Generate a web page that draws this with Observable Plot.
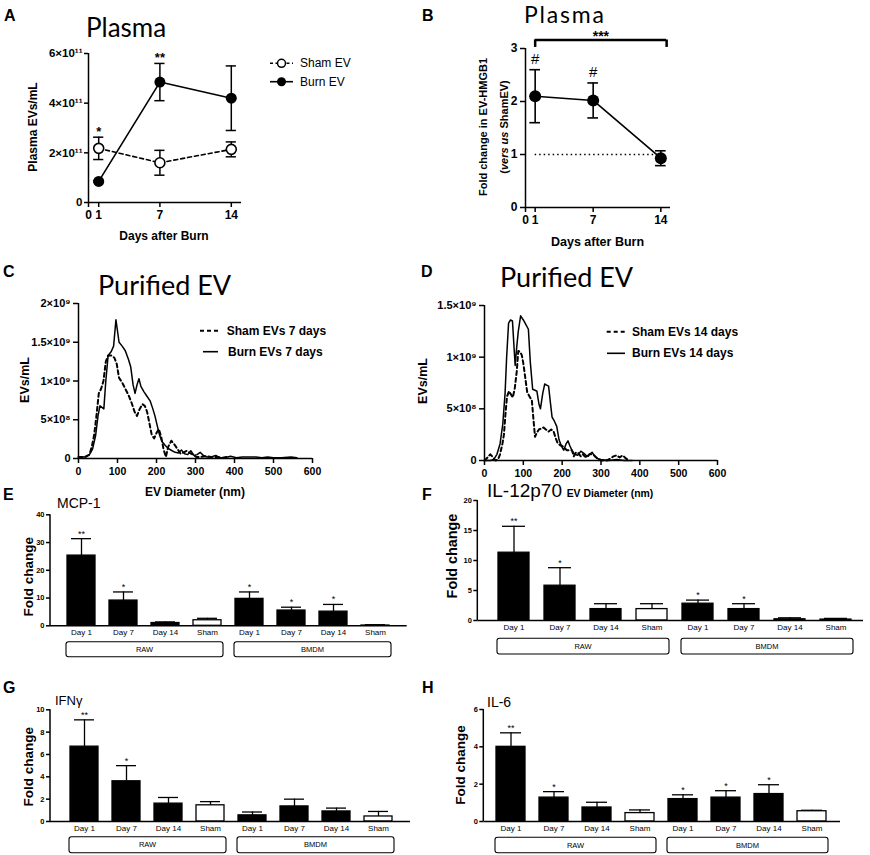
<!DOCTYPE html>
<html><head><meta charset="utf-8">
<script src="https://cdn.jsdelivr.net/npm/d3@7"></script>
<script src="https://cdn.jsdelivr.net/npm/@observablehq/plot@0.6"></script>
<style>
body{margin:0;background:#fff;}
#fig{position:relative;width:870px;height:855px;overflow:hidden;background:#fff;}
</style></head><body><div id="fig"></div>
<script>
// ---------------- DATA ----------------
// Panel A: plasma EVs/mL
const daysA = [1, 7, 14];
const shamEV = [2.18e11, 1.60e11, 2.14e11];
const shamEVsem = [0.45e11, 0.50e11, 0.30e11];
const burnEV = [0.85e11, 4.85e11, 4.20e11];
const burnEVsem = [0.03e11, 0.75e11, 1.30e11];
const starsA = ["*", "**", ""];
const yTicksA = [0, 2e11, 4e11, 6e11];
const dayTicks = [0, 1, 7, 14];

// Panel B: fold change EV-HMGB1
const daysB = [1, 7, 14];
const hmgb1 = [2.10, 2.02, 0.93];
const hmgb1Sem = [0.50, 0.33, 0.14];
const hashB = ["#", "#", ""];
const yTicksB = [0, 1, 2, 3];
const bracketB = [{from: 1, to: 14.6, top: 3.16, foot: 3.02, label: "***"}];
const refLineB = [{from: 1, to: 14.5, y: 1}];

// Panel C: size distribution day 7 ([diameter nm, EVs/mL x1e9])
const sham7 = [[0,0.02],[12,0.02],[20,0.03],[28,0.05],[34,0.15],[40,0.3],[46,0.55],[52,0.84],[58,0.9],[64,1.0],[70,1.25],[76,1.33],[84,1.33],[92,1.3],[98,1.22],[104,1.04],[112,0.98],[120,0.9],[128,0.82],[136,0.72],[144,0.6],[150,0.55],[156,0.63],[164,0.7],[170,0.68],[176,0.6],[182,0.45],[188,0.3],[194,0.26],[200,0.33],[206,0.38],[212,0.28],[218,0.12],[224,0.02],[230,0.15],[238,0.23],[246,0.18],[254,0.12],[262,0.06],[270,0.08],[278,0.1],[286,0.07],[294,0.05],[302,0.02],[312,0.02],[325,0.03],[340,0.02],[355,0.02],[370,0.01],[380,0.02]];
const burn7 = [[0,0.02],[10,0.02],[20,0.02],[28,0.05],[36,0.12],[44,0.3],[50,0.55],[55,0.68],[60,0.66],[65,0.64],[70,1.0],[76,1.33],[84,1.38],[90,1.45],[96,1.79],[104,1.5],[112,1.45],[120,1.39],[128,1.28],[134,1.18],[140,0.95],[145,0.84],[150,0.95],[155,1.03],[160,0.93],[168,0.86],[176,0.8],[184,0.74],[190,0.65],[196,0.55],[202,0.42],[208,0.3],[214,0.22],[222,0.17],[230,0.13],[240,0.1],[248,0.08],[256,0.07],[264,0.11],[272,0.06],[280,0.05],[288,0.1],[296,0.04],[304,0.05],[312,0.08],[320,0.04],[328,0.02],[340,0.02],[352,0.04],[362,0.01],[375,0.01],[390,0.03],[405,0.01],[420,0.02],[440,0.02],[455,0.02],[470,0.01],[485,0.02],[500,0.01],[520,0.01],[545,0.02],[560,0.01]];
const yTicksC = [0, 5e8, 1e9, 1.5e9, 2e9];
const xTicksCD = [0, 100, 200, 300, 400, 500, 600];

// Panel D: size distribution day 14
const sham14 = [[0,0],[8,0.03],[15,0.06],[22,0.03],[28,0],[35,0.01],[40,0.06],[46,0.16],[50,0.25],[54,0.45],[58,0.62],[63,0.67],[68,0.64],[73,0.61],[78,0.7],[83,0.86],[87,1.06],[92,1.05],[96,1.02],[100,0.94],[105,0.8],[110,0.66],[116,0.62],[122,0.58],[126,0.4],[130,0.23],[135,0.27],[140,0.3],[146,0.31],[152,0.32],[158,0.3],[165,0.28],[172,0.3],[178,0.28],[183,0.22],[188,0.17],[194,0.15],[200,0.14],[206,0.12],[212,0.1],[218,0.1],[225,0.1],[230,0.04],[236,0.08],[242,0.07],[248,0.04],[253,0.06],[258,0.04],[264,0.03],[270,0.06],[276,0.06],[282,0.05],[288,0.03],[294,0.01],[300,0],[315,0],[325,0.02],[332,0.04],[340,0.05],[348,0.03],[356,0.05],[364,0.02],[372,0]];
const burn14 = [[0,0],[15,0],[24,0.01],[32,0.06],[40,0.16],[47,0.35],[53,0.65],[57,1.0],[62,1.33],[67,1.36],[72,1.35],[76,1.1],[79,0.92],[83,1.1],[87,1.25],[93,1.4],[100,1.36],[106,1.32],[113,1.27],[118,0.95],[124,0.69],[130,0.68],[135,0.67],[140,0.55],[144,0.5],[150,0.65],[155,0.74],[160,0.73],[165,0.72],[170,0.55],[174,0.42],[180,0.38],[186,0.33],[192,0.2],[198,0.14],[204,0.1],[210,0.16],[215,0.19],[220,0.14],[225,0.1],[232,0.06],[240,0.05],[248,0.09],[256,0.07],[264,0.04],[270,0.06],[277,0.08],[284,0.04],[290,0.02],[300,0.01],[320,0],[340,0.01],[360,0],[380,0]];
const yTicksD = [0, 5e8, 1e9, 1.5e9];

// Panels E-H: cytokine fold change
const cellGroups = ["RAW", "BMDM"];
const treatments = ["Day 1", "Day 7", "Day 14", "Sham"];
const mcp1      = [25.3, 9.1, 1.0, 2.0, 9.7, 5.5, 5.1, 0.1];
const mcp1Sem   = [6.1, 3.1, 0.4, 0.7, 2.5, 1.2, 2.6, 0.3];
const mcp1Stars = ["**", "*", "", "", "*", "*", "*", ""];
const il12      = [11.3, 5.8, 1.9, 1.9, 2.8, 1.9, 0.2, 0.15];
const il12Sem   = [4.4, 3.0, 0.9, 0.9, 0.6, 0.9, 0.25, 0.2];
const il12Stars = ["**", "*", "", "", "*", "*", "", ""];
const ifng      = [6.7, 3.6, 1.6, 1.45, 0.55, 1.35, 0.9, 0.45];
const ifngSem   = [2.4, 1.4, 0.55, 0.33, 0.3, 0.65, 0.3, 0.45];
const ifngStars = ["**", "*", "", "", "", "", "", ""];
const il6       = [4.0, 1.28, 0.75, 0.45, 1.2, 1.28, 1.47, 0.55];
const il6Sem    = [0.75, 0.32, 0.28, 0.17, 0.23, 0.37, 0.5, 0.05];
const il6Stars  = ["**", "*", "", "", "*", "*", "*", ""];

// ---------------- HELPERS ----------------
const SANS = "'Liberation Sans', Arial, Helvetica, sans-serif";
const TITLE = "Lato, 'Open Sans', sans-serif";
const fig = document.getElementById("fig");
const baseStyle = `background: transparent; overflow: visible; font-family: ${SANS}; color: black;`;
const intFmt = d => String(d);
const sup = s => String(s).replace(/\d/g, c => "⁰¹²³⁴⁵⁶⁷⁸⁹"[c]);
function sciFmt(v) {
  if (v === 0) return "0";
  const e = Math.floor(Math.log10(v) + 1e-9);
  const m = +(v / 10 ** e).toFixed(2);
  return m + "×10" + sup(e);
}
function place(p, left, top) {
  p.style.position = "absolute";
  p.style.left = left + "px";
  p.style.top = top + "px";
  fig.appendChild(p);
  return p;
}

// ---------------- PANEL A ----------------
const rowsA = daysA.map((day, i) => ({day, sham: shamEV[i], shamSem: shamEVsem[i], burn: burnEV[i], burnSem: burnEVsem[i], star: starsA[i]}));
place(Plot.plot({
  width: 260, height: 250, marginLeft: 88, marginRight: 19, marginTop: 53, marginBottom: 48,
  x: {domain: [0, 15]}, y: {domain: [0, 6e11]}, style: baseStyle,
  marks: [
    Plot.axisY({ticks: yTicksA, tickFormat: sciFmt, tickSize: 4, tickPadding: 2, strokeWidth: 1.5, fontSize: 11.5, fontWeight: "bold", label: null}),
    Plot.axisX({ticks: dayTicks, tickSize: 5, tickPadding: 3, strokeWidth: 1.5, fontSize: 12, fontWeight: "bold", tickFormat: intFmt, label: null}),
    Plot.ruleX(rowsA, {x: "day", y1: d => d.sham - d.shamSem, y2: d => d.sham + d.shamSem, strokeWidth: 1.5}),
    Plot.ruleY(rowsA, {y: d => d.sham + d.shamSem, x1: d => d.day - 0.5, x2: d => d.day + 0.5, strokeWidth: 1.5}),
    Plot.ruleY(rowsA, {y: d => d.sham - d.shamSem, x1: d => d.day - 0.5, x2: d => d.day + 0.5, strokeWidth: 1.5}),
    Plot.ruleX(rowsA, {x: "day", y1: d => d.burn - d.burnSem, y2: d => d.burn + d.burnSem, strokeWidth: 1.5}),
    Plot.ruleY(rowsA, {y: d => d.burn + d.burnSem, x1: d => d.day - 0.5, x2: d => d.day + 0.5, strokeWidth: 1.5}),
    Plot.ruleY(rowsA, {y: d => d.burn - d.burnSem, x1: d => d.day - 0.5, x2: d => d.day + 0.5, strokeWidth: 1.5}),
    Plot.line(rowsA, {x: "day", y: "sham", strokeDasharray: "4,3", strokeWidth: 1.6}),
    Plot.line(rowsA, {x: "day", y: "burn", strokeWidth: 1.6}),
    Plot.dot(rowsA, {x: "day", y: "sham", r: 5, fill: "white", stroke: "black", strokeWidth: 1.6}),
    Plot.dot(rowsA, {x: "day", y: "burn", r: 5.5, fill: "black"}),
    Plot.text(rowsA, {x: "day", y: d => Math.max(d.sham + d.shamSem, d.burn + d.burnSem), text: "star", dy: -1, lineAnchor: "bottom", fontSize: 13, fontWeight: "bold"}),
    Plot.ruleX([0], {strokeWidth: 1.5}),
    Plot.ruleY([0], {strokeWidth: 1.5})
  ]
}), 0, 0);

// ---------------- PANEL B ----------------
const rowsB = daysB.map((day, i) => ({day, v: hmgb1[i], s: hmgb1Sem[i], mark: hashB[i]}));
place(Plot.plot({
  width: 260, height: 250, marginLeft: 90, marginRight: 25, marginTop: 48, marginBottom: 43,
  x: {domain: [0, 15]}, y: {domain: [0, 3]}, style: baseStyle,
  marks: [
    Plot.axisY({ticks: yTicksB, tickFormat: intFmt, tickSize: 5, tickPadding: 3, strokeWidth: 1.5, fontSize: 12, fontWeight: "bold", label: null}),
    Plot.axisX({ticks: dayTicks, tickFormat: intFmt, tickSize: 5, tickPadding: 3, strokeWidth: 1.5, fontSize: 12, fontWeight: "bold", label: null}),
    Plot.ruleY(refLineB, {y: "y", x1: "from", x2: "to", strokeDasharray: "1.5,3", strokeWidth: 1.6}),
    Plot.ruleX(rowsB, {x: "day", y1: d => d.v - d.s, y2: d => d.v + d.s, strokeWidth: 1.6}),
    Plot.ruleY(rowsB, {y: d => d.v + d.s, x1: d => d.day - 0.55, x2: d => d.day + 0.55, strokeWidth: 1.6}),
    Plot.ruleY(rowsB, {y: d => d.v - d.s, x1: d => d.day - 0.55, x2: d => d.day + 0.55, strokeWidth: 1.6}),
    Plot.line(rowsB, {x: "day", y: "v", strokeWidth: 1.6}),
    Plot.dot(rowsB, {x: "day", y: "v", r: 6, fill: "black"}),
    Plot.text(rowsB, {x: "day", y: d => d.v + d.s, text: "mark", dy: -6, lineAnchor: "bottom", fontSize: 15}),
    Plot.ruleY(bracketB, {y: "top", x1: "from", x2: "to", strokeWidth: 2.5}),
    Plot.ruleX(bracketB, {x: "from", y1: "foot", y2: "top", strokeWidth: 2.5}),
    Plot.ruleX(bracketB, {x: "to", y1: "foot", y2: "top", strokeWidth: 2.5}),
    Plot.text(bracketB, {x: d => (d.from + d.to) / 2, y: "top", text: "label", dy: 1, lineAnchor: "bottom", fontSize: 14, fontWeight: "bold"}),
    Plot.ruleX([0], {strokeWidth: 1.5}),
    Plot.ruleY([0], {strokeWidth: 1.5})
  ]
}), 435, 0);

// ---------------- PANELS C, D ----------------
function sizePlot(sham, burn, yTicks, yMax, opts) {
  return Plot.plot({
    width: 420, height: 250, ...opts,
    x: {domain: [0, 600]}, y: {domain: [0, yMax]}, style: baseStyle,
    marks: [
      Plot.axisY({ticks: yTicks, tickFormat: sciFmt, tickSize: 5, tickPadding: 3, strokeWidth: 1.5, fontSize: 11, fontWeight: "bold", label: null}),
      Plot.axisX({ticks: xTicksCD, tickFormat: intFmt, tickSize: 5, tickPadding: 4, strokeWidth: 1.5, fontSize: 10.5, fontWeight: "bold", label: null}),
      Plot.line(sham, {x: d => d[0], y: d => d[1] * 1e9, strokeDasharray: "4,3", strokeWidth: 2}),
      Plot.line(burn, {x: d => d[0], y: d => d[1] * 1e9, strokeWidth: 1.5}),
      Plot.ruleX([0], {strokeWidth: 1.5}),
      Plot.ruleY([0], {strokeWidth: 1.5})
    ]
  });
}
place(sizePlot(sham7, burn7, yTicksC, 2e9, {marginLeft: 78, marginRight: 108, marginTop: 53, marginBottom: 42}), 0, 250);
place(sizePlot(sham14, burn14, yTicksD, 1.5e9, {marginLeft: 49, marginRight: 138, marginTop: 55, marginBottom: 40}), 435, 250);

// ---------------- PANELS E-H ----------------
const barKeys = cellGroups.flatMap(g => treatments.map(t => g + "|" + t));
function barPanel({vals, sems, stars, yMax, yTicks, left, top, width, mL, mR, mT, mB, range, boxOff, boxH}) {
  const rows = barKeys.map((k, i) => ({key: k, v: vals[i], s: sems[i], star: stars[i], sham: k.endsWith("Sham")}));
  const p = Plot.plot({
    width, height: 175, marginLeft: mL, marginRight: mR, marginTop: mT, marginBottom: mB,
    x: {type: "band", domain: barKeys, range, paddingInner: 0.33, paddingOuter: 0.165},
    y: {domain: [0, yMax]}, style: baseStyle,
    marks: [
      Plot.axisY({ticks: yTicks, tickFormat: intFmt, tickSize: 4, tickPadding: 2, strokeWidth: 1.5, fontSize: 7.5, fontWeight: "bold", label: null}),
      Plot.axisX({tickSize: 0, tickPadding: 4, fontSize: 8, tickFormat: k => k.split("|")[1], label: null}),
      Plot.ruleX(rows, {x: "key", y1: "v", y2: d => d.v + d.s, strokeWidth: 1.3}),
      Plot.tickY(rows, {x: "key", y: d => d.v + d.s, insetLeft: 4, insetRight: 4, strokeWidth: 1.3}),
      Plot.barY(rows, {x: "key", y: "v", fill: d => d.sham ? "white" : "black", stroke: "black", strokeWidth: 1.3}),
      Plot.text(rows, {x: "key", y: d => d.v + d.s, text: "star", dy: -2, lineAnchor: "bottom", fontSize: 9}),
      Plot.ruleY([0], {strokeWidth: 1.5})
    ]
  });
  const svg = d3.select(p);
  const xs = p.scale("x"), ys = p.scale("y");
  const bw = xs.bandwidth ?? 0.67 * (range[1] - range[0]) / barKeys.length;
  const y0 = ys.apply(0);
  svg.append("line").attr("x1", mL).attr("x2", mL).attr("y1", y0).attr("y2", ys.apply(yMax))
    .attr("stroke", "black").attr("stroke-width", 1.5);
  cellGroups.forEach(g => {
    const ks = barKeys.filter(k => k.startsWith(g + "|"));
    const xa = xs.apply(ks[0]) - 1, xb = xs.apply(ks[ks.length - 1]) + bw + 2;
    svg.append("rect").attr("x", xa).attr("y", y0 + boxOff).attr("width", xb - xa).attr("height", boxH)
      .attr("rx", 2.5).attr("fill", "white").attr("stroke", "black").attr("stroke-width", 1.1);
    svg.append("text").attr("x", (xa + xb) / 2).attr("y", y0 + boxOff + boxH / 2).attr("dy", "0.35em")
      .attr("text-anchor", "middle").attr("font-size", 7.5).text(g);
  });
  return place(p, left, top);
}
barPanel({vals: mcp1, sems: mcp1Sem, stars: mcp1Stars, yMax: 40, yTicks: [0,10,20,30,40], left: 0, top: 490, width: 420, mL: 50, mR: 13.3, mT: 24.3, mB: 39.7, range: [58.45, 398.45], boxOff: 16.4, boxH: 15});
barPanel({vals: il12, sems: il12Sem, stars: il12Stars, yMax: 20, yTicks: [0,5,10,15,20], left: 435, top: 490, width: 435, mL: 42.3, mR: 7, mT: 10, mB: 45, range: [53.8, 425], boxOff: 18.3, boxH: 15.7});
barPanel({vals: ifng, sems: ifngSem, stars: ifngStars, yMax: 10, yTicks: [0,2,4,6,8,10], left: 0, top: 680, width: 420, mL: 50, mR: 10, mT: 29.3, mB: 34, range: [59.05, 402.25], boxOff: 15.7, boxH: 16});
barPanel({vals: il6, sems: il6Sem, stars: il6Stars, yMax: 6, yTicks: [0,2,4,6], left: 435, top: 680, width: 420, mL: 48.3, mR: 15, mT: 29, mB: 34, range: [53.4, 399], boxOff: 16.3, boxH: 15.4});

// ---------------- ANNOTATION OVERLAY ----------------
const ov = d3.select(fig).append("svg").attr("width", 870).attr("height", 855)
  .style("position", "absolute").style("left", "0px").style("top", "0px").style("pointer-events", "none");
function txt(x, y, s, {size = 12, weight = "normal", anchor = "start", family = SANS, rot = false, mid = false, ls = null} = {}) {
  const t = ov.append("text").attr("font-family", family).attr("font-size", size).attr("font-weight", weight)
    .attr("text-anchor", anchor).attr("fill", "black");
  if (ls) t.attr("letter-spacing", ls);
  if (rot) t.attr("transform", `translate(${x},${y}) rotate(-90)`).attr("dominant-baseline", "central");
  else { t.attr("x", x).attr("y", y); if (mid) t.attr("dominant-baseline", "central"); }
  t.text(s);
  return t;
}
// panel letters
[["A",4,21],["B",422,21],["C",3,277],["D",421,277],["E",3,500],["F",422,500],["G",3,693],["H",422,693]]
  .forEach(([l, x, y]) => txt(x, y, l, {size: 16, weight: "bold"}));
// titles
txt(86, 37, "Plasma", {size: 26, family: TITLE});
txt(524, 22.5, "Plasma", {size: 23, family: TITLE, ls: 1.8});
txt(98, 295, "Purified EV", {size: 27, family: TITLE});
txt(500, 287, "Purified EV", {size: 27, family: TITLE});
txt(57, 508, "MCP-1", {size: 14});
txt(487, 497, "IL-12p70", {size: 19});
txt(55, 705, "IFNγ", {size: 13});
txt(487, 706.5, "IL-6", {size: 14});
// axis titles
txt(33, 127, "Plasma EVs/mL", {size: 12, weight: "bold", anchor: "middle", rot: true});
txt(164, 236, "Days after Burn", {size: 12, weight: "bold", anchor: "middle", mid: true});
txt(482.5, 127, "Fold change in EV-HMGB1", {size: 11, weight: "bold", anchor: "middle", rot: true});
const bl = txt(503.5, 127, "(", {size: 11, weight: "bold", anchor: "middle", rot: true});
bl.append("tspan").attr("font-style", "italic").text("vers us");
bl.append("tspan").text(" ShamEV)");
txt(597.5, 241.5, "Days after Burn", {size: 12.5, weight: "bold", anchor: "middle", mid: true});
txt(25, 380, "EVs/mL", {size: 12.5, weight: "bold", anchor: "middle", rot: true});
txt(195, 491.7, "EV Diameter (nm)", {size: 12, weight: "bold", anchor: "middle", mid: true});
txt(423, 381, "EVs/mL", {size: 12.5, weight: "bold", anchor: "middle", rot: true});
txt(610, 493, "EV Diameter (nm)", {size: 10.4, weight: "bold", anchor: "middle", mid: true});
txt(28.3, 576.7, "Fold change", {size: 13.5, weight: "bold", anchor: "middle", rot: true});
txt(451.7, 556, "Fold change", {size: 14.4, weight: "bold", anchor: "middle", rot: true});
txt(28.3, 766.7, "Fold change", {size: 13.5, weight: "bold", anchor: "middle", rot: true});
txt(460, 765, "Fold change", {size: 13.5, weight: "bold", anchor: "middle", rot: true});
// legends
function legLine(x1, x2, y, dash, w) {
  ov.append("line").attr("x1", x1).attr("x2", x2).attr("y1", y).attr("y2", y).attr("stroke", "black")
    .attr("stroke-width", w).attr("stroke-dasharray", dash);
}
legLine(270, 293, 63.3, "3,2.5", 1.6);
ov.append("circle").attr("cx", 281.5).attr("cy", 63.3).attr("r", 4).attr("fill", "white").attr("stroke", "black").attr("stroke-width", 1.5);
txt(300, 63.3, "Sham EV", {size: 12, mid: true});
legLine(270, 293, 81.7, null, 1.6);
ov.append("circle").attr("cx", 281.5).attr("cy", 81.7).attr("r", 4.5).attr("fill", "black");
txt(300, 81.7, "Burn EV", {size: 12, mid: true});
legLine(200, 220, 330.7, "4,3", 2);
txt(226.7, 330.7, "Sham EVs 7 days", {size: 12, weight: "bold", mid: true});
legLine(203, 218, 351.7, null, 1.6);
txt(228, 351.7, "Burn EVs 7 days", {size: 12, weight: "bold", mid: true});
legLine(606.7, 625, 331.7, "4,3", 2);
txt(632, 331.7, "Sham EVs 14 days", {size: 12, weight: "bold", mid: true});
legLine(607, 625, 353.3, null, 1.6);
txt(632, 353.3, "Burn EVs 14 days", {size: 12, weight: "bold", mid: true});
</script></body></html>
